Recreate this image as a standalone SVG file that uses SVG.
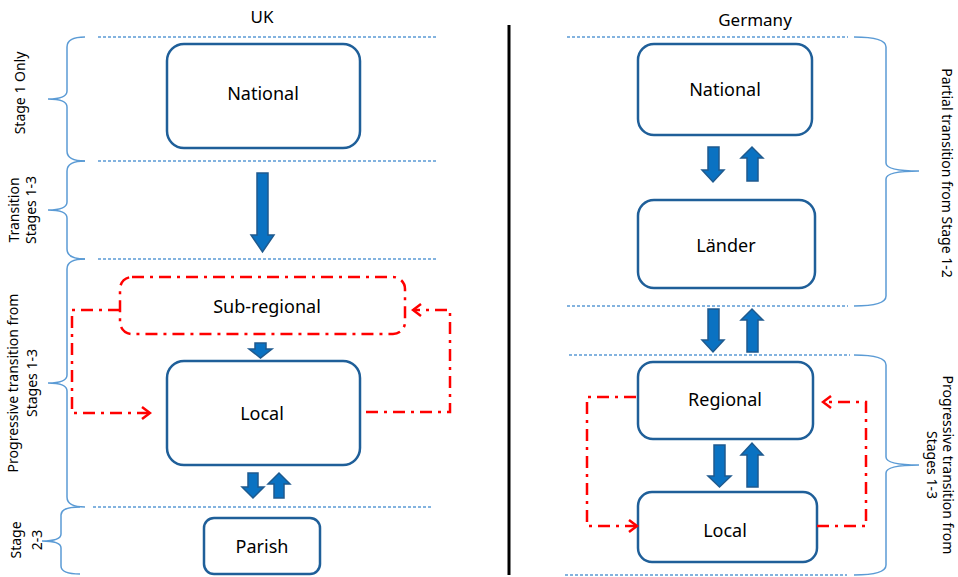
<svg xmlns="http://www.w3.org/2000/svg" width="958" height="577" viewBox="0 0 958 577">
<style>
  text { font-family: "Noto Sans", "Open Sans", sans-serif; fill: #000; }
  .title { font-size: 17px; text-anchor: middle; }
  .lbl { font-size: 18px; text-anchor: middle; }
  .side { font-size: 14px; text-anchor: middle; }
  .box { fill: #fff; stroke: #1F5F99; stroke-width: 2.5; }
  .sep { fill: none; stroke: #5B9BD5; stroke-width: 1.3; stroke-dasharray: 3 2; }
  .brace { fill: none; stroke: #5B9BD5; stroke-width: 1.5; }
  .blk { fill: #0A72C2; stroke: #1F5A8E; stroke-width: 1.5; stroke-linejoin: miter; }
  .red { fill: none; stroke: #FF0000; stroke-width: 2.5; stroke-dasharray: 12 6 3 6; }
</style>
<defs>
  <marker id="chev" markerWidth="12" markerHeight="14" refX="10" refY="7" orient="auto" markerUnits="userSpaceOnUse">
    <polyline points="2,1 10,7 2,13" fill="none" stroke="#FF0000" stroke-width="2.5"/>
  </marker>
</defs>

<rect width="958" height="577" fill="#fff"/>

<!-- Titles -->
<text class="title" x="262" y="23">UK</text>
<text class="title" x="755" y="26">Germany</text>

<!-- Divider -->
<line x1="509" y1="25" x2="509" y2="575" stroke="#000" stroke-width="3"/>

<!-- Separators -->
<g id="separators">
  <line class="sep" x1="98" y1="37" x2="437" y2="37"/>
  <line class="sep" x1="98" y1="161" x2="437" y2="161"/>
  <line class="sep" x1="98" y1="259" x2="437" y2="259"/>
  <line class="sep" x1="93" y1="507" x2="433" y2="507"/>
  <line class="sep" x1="567" y1="37" x2="848" y2="37"/>
  <line class="sep" x1="567" y1="306" x2="848" y2="306"/>
  <line class="sep" x1="569" y1="355" x2="850" y2="355"/>
  <line class="sep" x1="565" y1="575" x2="847" y2="575"/>
</g>

<!-- Braces -->
<g id="braces">
  <path class="brace" d="M85,37 Q67,37 67,47 V91 Q67,99 48,99 Q67,99 67,107 V151 Q67,161 85,161"/>
  <path class="brace" d="M85,161 Q67,161 67,171 V202 Q67,210 48,210 Q67,210 67,218 V249 Q67,259 85,259"/>
  <path class="brace" d="M85,259 Q67,259 67,269 V375 Q67,383 48,383 Q67,383 67,391 V497 Q67,507 85,507"/>
  <path class="brace" d="M80,507 Q61,507 61,515 V534 Q61,541 42,541 Q61,541 61,548 V566 Q61,574 80,574"/>
  <path class="brace" d="M854,37 Q886,37 886,47 V163 Q886,171 919,171 Q886,171 886,179 V296 Q886,306 854,306"/>
  <path class="brace" d="M854,355 Q886,355 886,365 V457 Q886,465 919,465 Q886,465 886,473 V565 Q886,575 854,575"/>
</g>

<!-- Side labels -->
<g id="side-labels">
  <text class="side" transform="translate(25,93) rotate(-90)">Stage 1 Only</text>
  <text class="side" transform="translate(19,210) rotate(-90)">Transition</text>
  <text class="side" transform="translate(36,210) rotate(-90)">Stages 1-3</text>
  <text class="side" transform="translate(18,383) rotate(-90)">Progressive transition from</text>
  <text class="side" transform="translate(37,383) rotate(-90)">Stages 1-3</text>
  <text class="side" transform="translate(21,540) rotate(-90)">Stage</text>
  <text class="side" transform="translate(42,540) rotate(-90)">2-3</text>
  <text class="side" transform="translate(942,173) rotate(90)">Partial transition from Stage 1-2</text>
  <text class="side" transform="translate(943,465) rotate(90)">Progressive transition from</text>
  <text class="side" transform="translate(927,465) rotate(90)">Stages 1-3</text>
</g>

<!-- UK nodes -->
<g id="uk-national">
  <rect class="box" x="167" y="44" width="193" height="104" rx="17"/>
  <text class="lbl" x="263" y="100">National</text>
</g>
<g id="uk-subregional">
  <rect x="120" y="277" width="285" height="57" rx="12" fill="#fff" class="red"/>
  <text class="lbl" x="267" y="313">Sub-regional</text>
</g>
<g id="uk-local">
  <rect class="box" x="167" y="361" width="193" height="104" rx="17"/>
  <text class="lbl" x="262" y="420">Local</text>
</g>
<g id="uk-parish">
  <rect class="box" x="204" y="518" width="116" height="56" rx="10"/>
  <text class="lbl" x="262" y="553">Parish</text>
</g>

<!-- Germany nodes -->
<g id="de-national">
  <rect class="box" x="638" y="44" width="174" height="91" rx="16"/>
  <text class="lbl" x="725" y="96">National</text>
</g>
<g id="de-laender">
  <rect class="box" x="638" y="200" width="177" height="88" rx="16"/>
  <text class="lbl" x="726" y="252">Länder</text>
</g>
<g id="de-regional">
  <rect class="box" x="638" y="362" width="175" height="77" rx="15"/>
  <text class="lbl" x="725" y="406">Regional</text>
</g>
<g id="de-local">
  <rect class="box" x="638" y="492" width="179" height="70" rx="14"/>
  <text class="lbl" x="725" y="537">Local</text>
</g>

<!-- Connectors -->
<g id="connectors">
  <polygon class="blk" points="257,173 268,173 268,235 274,235 262.5,252 251,235 257,235"/>
  <polygon class="blk" points="255,343 266,343 266,349 272,349 260.5,358 249,349 255,349"/>
  <polygon class="blk" points="248,473 258,473 258,487 264,487 253,498 242,487 248,487"/>
  <polygon class="blk" points="274,498 284,498 284,484 290,484 279,473 268,484 274,484"/>
  <polygon class="blk" points="708,147 719,147 719,170 724,170 713,182 702,170 708,170"/>
  <polygon class="blk" points="747,181 758,181 758,158 763,158 752,147 741,158 747,158"/>
  <polygon class="blk" points="708,309 719,309 719,340 724,340 713,352 702,340 708,340"/>
  <polygon class="blk" points="747,352 758,352 758,320 763,320 752,309 741,320 747,320"/>
  <polygon class="blk" points="714,445 725,445 725,476 731,476 719.5,487 708,476 714,476"/>
  <polygon class="blk" points="747,487 758,487 758,455 763,455 752,443 741,455 747,455"/>
  <path class="red" d="M120,310 H72 V413 H150" marker-end="url(#chev)"/>
  <path class="red" d="M366,412 H450 V310 H413" marker-end="url(#chev)"/>
  <path class="red" d="M636,397 H587 V526 H637" marker-end="url(#chev)"/>
  <path class="red" d="M817,526 H866 V402 H823" marker-end="url(#chev)"/>
</g>
</svg>
